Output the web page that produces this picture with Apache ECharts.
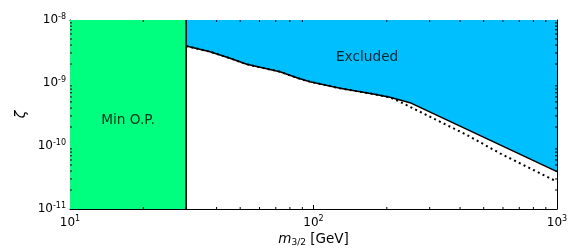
<!DOCTYPE html>
<html><head><meta charset="utf-8">
<script src="https://cdn.jsdelivr.net/npm/echarts@6/dist/echarts.min.js"></script>
<style>html,body{margin:0;padding:0;background:#fff}#c{width:581px;height:249px}</style>
</head><body><div id="c"></div>
<script>
const xRange = [10, 1000];
const yRange = [1e-11, 1e-8];
const minOPBound = [10, 30];
const boundMass = [30, 37.6, 45.4, 53.2, 72.8, 86.6, 96.7, 128.5, 176, 206, 249, 1000];
const boundZeta = [3.86e-9, 3.14e-9, 2.47e-9, 1.98e-9, 1.51e-9, 1.19e-9, 1.05e-9, 8.24e-10, 6.68e-10, 5.93e-10, 4.87e-10, 3.91e-11];
const dotMass = [30, 37.6, 45.4, 53.2, 72.8, 86.6, 96.7, 128.5, 176, 206, 226, 310, 426, 583, 800, 1000];
const dotZeta = [3.86e-9, 3.14e-9, 2.47e-9, 1.98e-9, 1.51e-9, 1.19e-9, 1.05e-9, 8.24e-10, 6.68e-10, 5.93e-10, 5.05e-10, 2.75e-10, 1.50e-10, 7.66e-11, 4.16e-11, 2.71e-11];
const xMinorTicks = [20, 30, 40, 50, 60, 70, 80, 90, 200, 300, 400, 500, 600, 700, 800, 900];
const yMinorTicks = [2e-11, 3e-11, 4e-11, 5e-11, 6e-11, 7e-11, 8e-11, 9e-11,
                     2e-10, 3e-10, 4e-10, 5e-10, 6e-10, 7e-10, 8e-10, 9e-10,
                     2e-9, 3e-9, 4e-9, 5e-9, 6e-9, 7e-9, 8e-9, 9e-9];
const regionLabels = ['Min O.P.', 'Excluded'];
const labelMass = [17.3, 166];
const labelZeta = [2.59e-10, 2.59e-9];

const FONT = 'DejaVu Sans';
function powLabel(v) {
  const e = Math.round(Math.log10(v));
  return '{b|10}{s|' + e + '}';
}
const powRich = {
  b: {fontSize: 12, fontFamily: FONT, color: '#000'},
  s: {fontSize: 8, fontFamily: FONT, color: '#000', padding: [0, 0, 7, 0]}
};
const axisCommon = {
  type: 'log', logBase: 10,
  axisLine: {show: true, lineStyle: {color: '#000', width: 1}},
  axisTick: {show: true, inside: true, length: 4, lineStyle: {color: '#000', width: 1}},
  splitLine: {show: false},
  minorTick: {show: false}
};

function minorRender(isX) {
  return function (params, api) {
    const v = api.value(isX ? 0 : 1);
    let a, b, ch;
    if (isX) {
      a = api.coord([v, yRange[0]]); b = api.coord([v, yRange[1]]);
      ch = [
        {type: 'line', shape: {x1: a[0], y1: a[1], x2: a[0], y2: a[1] - 2}, style: {stroke: '#000', lineWidth: 1}},
        {type: 'line', shape: {x1: b[0], y1: b[1], x2: b[0], y2: b[1] + 2}, style: {stroke: '#000', lineWidth: 1}}
      ];
    } else {
      a = api.coord([xRange[0], v]); b = api.coord([xRange[1], v]);
      ch = [
        {type: 'line', shape: {x1: a[0], y1: a[1], x2: a[0] + 2, y2: a[1]}, style: {stroke: '#000', lineWidth: 1}},
        {type: 'line', shape: {x1: b[0], y1: b[1], x2: b[0] - 2, y2: b[1]}, style: {stroke: '#000', lineWidth: 1}}
      ];
    }
    return {type: 'group', children: ch};
  };
}

const chart = echarts.init(document.getElementById('c'), null, {renderer: 'canvas'});
chart.setOption({
  animation: false,
  backgroundColor: '#fff',
  grid: {left: 70, right: 24, top: 20, bottom: 40, containLabel: false, outerBoundsMode: 'none'},
  xAxis: [
    Object.assign({}, axisCommon, {
      min: xRange[0], max: xRange[1], position: 'bottom',
      axisLabel: {formatter: powLabel, rich: powRich, margin: 6},
      name: '{i|m}{sub|3/2}{t| [GeV]}', nameLocation: 'middle', nameGap: 23, nameMoveOverlap: false,
      nameTextStyle: {rich: {
        i: {fontSize: 13.5, fontFamily: FONT, fontStyle: 'italic', color: '#000'},
        sub: {fontSize: 9, fontFamily: FONT, color: '#000', padding: [6, 0, 0, 0]},
        t: {fontSize: 13.5, fontFamily: FONT, color: '#000'}
      }}
    }),
    Object.assign({}, axisCommon, {
      min: xRange[0], max: xRange[1], position: 'top', axisLabel: {show: false}
    })
  ],
  yAxis: [
    Object.assign({}, axisCommon, {
      min: yRange[0], max: yRange[1], position: 'left',
      axisLabel: {formatter: powLabel, rich: powRich, margin: 4},
      name: '\u03B6', nameLocation: 'middle', nameGap: 42, nameRotate: 90, nameMoveOverlap: false,
      nameTextStyle: {fontSize: 14, fontFamily: FONT, fontStyle: 'italic', color: '#000'}
    }),
    Object.assign({}, axisCommon, {
      min: yRange[0], max: yRange[1], position: 'right', axisLabel: {show: false}
    })
  ],
  series: [
    {
      type: 'line', data: [[minOPBound[0], yRange[1]], [minOPBound[1], yRange[1]]],
      symbol: 'none', lineStyle: {width: 0}, silent: true, z: 1,
      markArea: {silent: true, itemStyle: {color: '#00ff7f', opacity: 1},
        data: [[{xAxis: minOPBound[0]}, {xAxis: minOPBound[1]}]]}
    },
    {
      type: 'line', data: boundMass.map((m, i) => [m, boundZeta[i]]),
      symbol: 'none', lineStyle: {width: 0}, z: 2,
      areaStyle: {origin: 'end', color: '#00bfff', opacity: 1}
    },
    {
      type: 'line', data: dotMass.map((m, i) => [m, dotZeta[i]]),
      symbol: 'none', z: 3,
      lineStyle: {color: '#000', width: 2, type: [2, 3.3], cap: 'butt'}
    },
    {
      type: 'line', data: boundMass.map((m, i) => [m, boundZeta[i]]),
      symbol: 'none', z: 4,
      lineStyle: {color: '#000', width: 1.5}
    },
    {
      type: 'line', data: [[minOPBound[1], yRange[0]], [minOPBound[1], yRange[1]]],
      symbol: 'none', z: 4,
      lineStyle: {color: '#000', width: 1.5}
    },
    {
      type: 'custom', renderItem: minorRender(true), z: 5,
      data: xMinorTicks.map(v => [v, yRange[0]]), encode: {x: 0, y: 1}
    },
    {
      type: 'custom', renderItem: minorRender(false), z: 5,
      data: yMinorTicks.map(v => [xRange[0], v]), encode: {x: 0, y: 1}
    },
    {
      type: 'scatter', symbolSize: 0, z: 6,
      data: regionLabels.map((n, i) => ({name: n, value: [labelMass[i], labelZeta[i]]})),
      label: {show: true, position: 'inside', formatter: p => p.name,
        fontSize: 13.7, fontFamily: FONT, color: '#000'}
    }
  ]
});
</script>
</body></html>
